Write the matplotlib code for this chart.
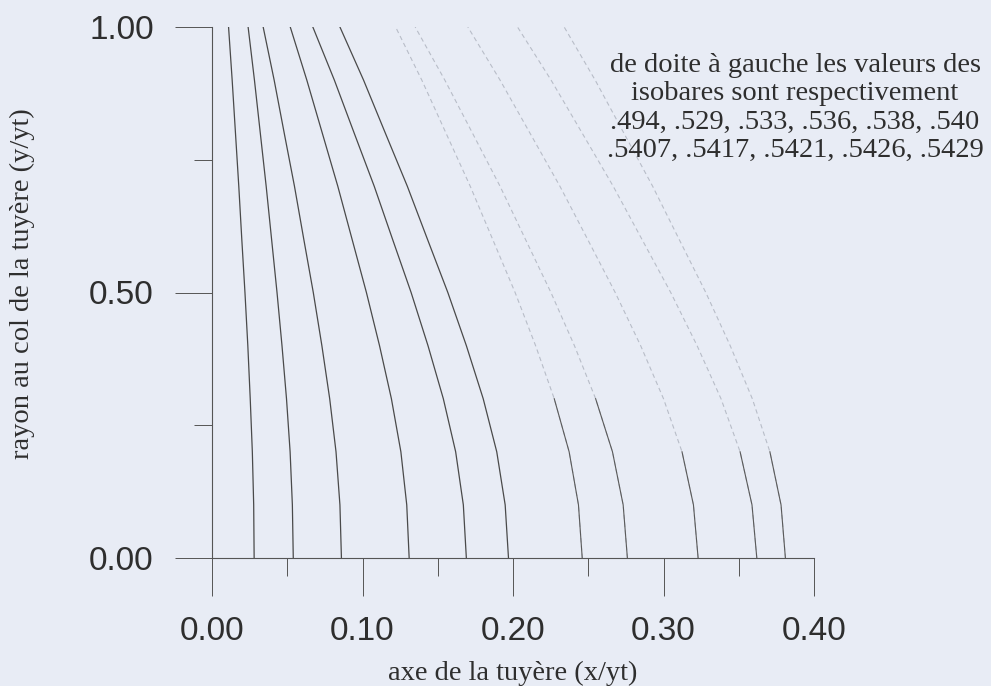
import matplotlib.pyplot as plt
import numpy as np

# rayon au col (y/yt) ou l'on a releve chaque isobare
y_levels = [0.0, 0.1, 0.2, 0.3, 0.4, 0.5, 0.6, 0.7, 0.8, 0.9, 1.0]

# position axiale (x/yt) des isobares, de gauche a droite
iso_1 = [0.028, 0.0277, 0.0268, 0.0254, 0.0238, 0.0219, 0.0198, 0.0178, 0.0156, 0.0134, 0.011]
iso_2 = [0.054, 0.0534, 0.0519, 0.0495, 0.0465, 0.0432, 0.0396, 0.036, 0.0321, 0.0282, 0.024]
iso_3 = [0.086, 0.085, 0.0824, 0.0782, 0.073, 0.0673, 0.061, 0.0548, 0.048, 0.0413, 0.034]
iso_4 = [0.131, 0.1294, 0.1255, 0.1192, 0.1113, 0.1026, 0.0931, 0.0836, 0.0733, 0.063, 0.052]
iso_5 = [0.169, 0.167, 0.1619, 0.1537, 0.1435, 0.1323, 0.120, 0.1078, 0.0945, 0.0813, 0.067]
iso_6 = [0.197, 0.1948, 0.1892, 0.1802, 0.169, 0.1567, 0.1432, 0.1298, 0.1152, 0.1007, 0.085]
iso_7 = [0.246, 0.2435, 0.2373, 0.2274, 0.215, 0.2014, 0.1865, 0.1716, 0.1555, 0.1394, 0.122]
iso_8 = [0.276, 0.2732, 0.2661, 0.2549, 0.2408, 0.2252, 0.2083, 0.1914, 0.1731, 0.1547, 0.135]
iso_9 = [0.323, 0.3199, 0.3123, 0.300, 0.2848, 0.2679, 0.2496, 0.2312, 0.2113, 0.1914, 0.170]
iso_10 = [0.362, 0.3588, 0.3509, 0.3382, 0.3223, 0.3048, 0.2857, 0.2666, 0.246, 0.2253, 0.203]
iso_11 = [0.381, 0.3781, 0.3707, 0.359, 0.3443, 0.3281, 0.3104, 0.2928, 0.2737, 0.2546, 0.234]
isobares = [iso_1, iso_2, iso_3, iso_4, iso_5, iso_6, iso_7, iso_8, iso_9, iso_10, iso_11]

x_ticks = [0.0, 0.1, 0.2, 0.3, 0.4]
y_ticks = [0.0, 0.5, 1.0]

note = ("de doite à gauche les valeurs des\n"
        "isobares sont respectivement\n"
        ".494, .529, .533, .536, .538, .540\n"
        ".5407, .5417, .5421, .5426, .5429")

paper = '#e8ecf5'
ink = '#2e2e2e'

fig = plt.figure(figsize=(9.91, 6.86), dpi=100, facecolor=paper)
ax = fig.add_axes([212/991, 128/686, 602/991, 531/686])
ax.set_facecolor(paper)

y = np.array(y_levels)
for i, xs in enumerate(isobares):
    xs = np.array(xs)
    if i < 6:
        ax.plot(xs, y, color='#4a4a4a', lw=0.9)
    else:
        # le haut des dernieres isobares est a peine visible
        ax.plot(xs, y, color='#b8bdc8', lw=0.8, ls=(0, (4, 3)))
        low = y <= (0.3 if i < 8 else 0.2)
        ax.plot(xs[low], y[low], color='#5a5a5a', lw=0.8)

ax.set_xlim(0, 0.4)
ax.set_ylim(0, 1)
for s in ['top', 'right']:
    ax.spines[s].set_visible(False)
for s in ['left', 'bottom']:
    ax.spines[s].set_color('#555555')
    ax.spines[s].set_linewidth(0.8)

ax.set_xticks(x_ticks)
ax.set_xticks([0.05, 0.15, 0.25, 0.35], minor=True)
ax.set_yticks(y_ticks)
ax.set_yticks([0.25, 0.75], minor=True)
ax.set_xticklabels(['%.2f' % v for v in x_ticks])
ax.set_yticklabels(['%.2f' % v for v in y_ticks])
ax.tick_params(which='major', direction='out', length=27, width=0.7,
               color='#555555', labelsize=24, labelcolor=ink, pad=15)
ax.tick_params(which='minor', direction='out', length=13, width=0.7,
               color='#555555')
for lab in ax.get_xticklabels() + ax.get_yticklabels():
    lab.set_family('Liberation Sans')

fig.text(513/991, 1 - 673/686, 'axe de la tuyère (x/yt)', ha='center', va='center',
         family='Liberation Serif', fontsize=20.5, color=ink)
fig.text(22/991, 1 - 284/686, 'rayon au col de la tuyère (y/yt)', ha='center',
         va='center', rotation=90, family='Liberation Serif', fontsize=20.5, color=ink)
fig.text(795/991, 1 - 108/686, note, ha='center', va='center', multialignment='center',
         family='Liberation Serif', fontsize=20.5, color=ink, linespacing=1.16)

fig.savefig('out.png', dpi=100, facecolor=paper)
